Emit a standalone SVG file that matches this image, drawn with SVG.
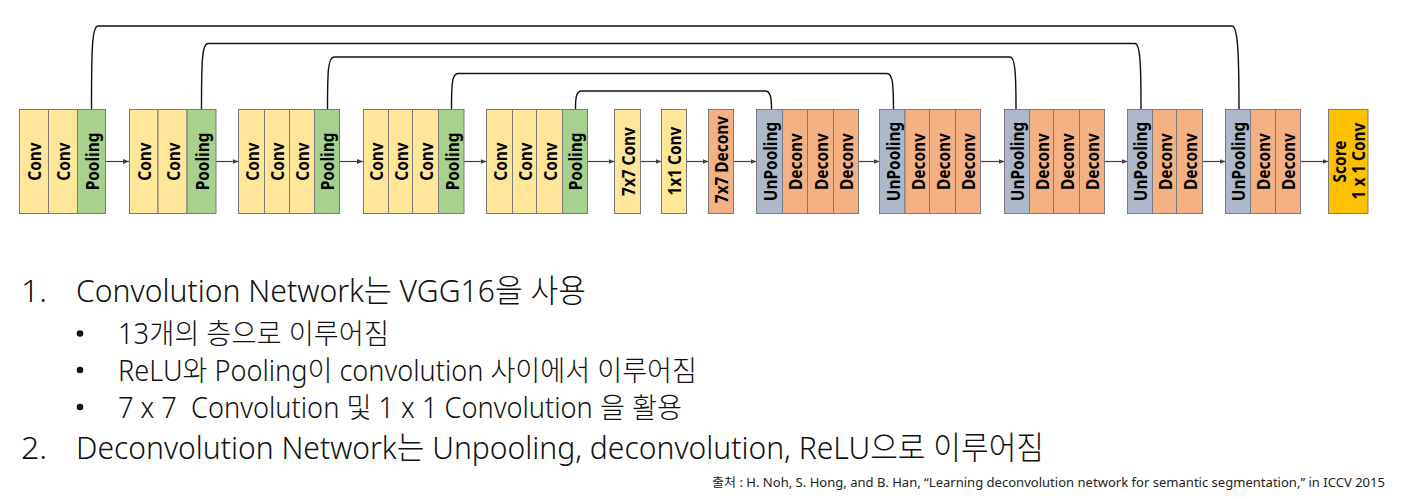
<svg xmlns="http://www.w3.org/2000/svg" width="1404" height="499" viewBox="0 0 1404 499">
<style>
.c{stroke:#7a7a7a;stroke-width:1}
.y{fill:#FFE699}.g{fill:#A9D18E}.o{fill:#F4B183}.b{fill:#ADB9CA}.s{fill:#FFC000}
.l{font-family:"Noto Sans","Liberation Sans",sans-serif;font-weight:700;font-size:17.5px;fill:#000;text-anchor:middle}
.ar{stroke:#404040;stroke-width:1.2;fill:none}
.sk{stroke:#111;stroke-width:1.4;fill:none}
.t{font-family:"Noto Sans","Noto Sans CJK KR",sans-serif;font-weight:300;fill:#111}
.big{font-size:32px}.mid{font-size:28.5px}
.cit{font-family:"Noto Sans","Noto Sans CJK KR",sans-serif;font-size:12.5px;fill:#222}
</style>
<defs>
<marker id="ah" markerUnits="userSpaceOnUse" markerWidth="6" markerHeight="6" refX="6" refY="3" orient="auto"><path d="M0,0.5 L6,3 L0,5.5 z" fill="#404040"/></marker>
</defs>
<g id="connectors">
<path class="sk" d="M91.5,109 C91.5,50 92,26 98,26 L1232,26 C1237.5,26 1239,50 1239,109"/>
<path class="sk" d="M201.5,109 C201.5,62 202,43.5 208,43.5 L1135,43.5 C1140,43.5 1141,62 1141,109"/>
<path class="sk" d="M327.5,109 C327.5,72 328,57 334,57 L1010,57 C1015,57 1016,72 1016,109"/>
<path class="sk" d="M451.5,109 C451.5,84 452,73.5 458,73.5 L887,73.5 C892.5,73.5 893.5,84 893.5,109"/>
<path class="sk" d="M575.5,109 C575.5,98 576,91 582,91 L765,91 C770.5,91 771.5,98 771.5,109"/>
<line class="ar" x1="106" y1="161.5" x2="129" y2="161.5" marker-end="url(#ah)"/>
<line class="ar" x1="216" y1="161.5" x2="238.5" y2="161.5" marker-end="url(#ah)"/>
<line class="ar" x1="339.5" y1="161.5" x2="363" y2="161.5" marker-end="url(#ah)"/>
<line class="ar" x1="464" y1="161.5" x2="486.5" y2="161.5" marker-end="url(#ah)"/>
<line class="ar" x1="587.5" y1="161.5" x2="614.5" y2="161.5" marker-end="url(#ah)"/>
<line class="ar" x1="640.5" y1="161.5" x2="661.5" y2="161.5" marker-end="url(#ah)"/>
<line class="ar" x1="686.5" y1="161.5" x2="708.5" y2="161.5" marker-end="url(#ah)"/>
<line class="ar" x1="733.5" y1="161.5" x2="756.5" y2="161.5" marker-end="url(#ah)"/>
<line class="ar" x1="858.5" y1="161.5" x2="879.5" y2="161.5" marker-end="url(#ah)"/>
<line class="ar" x1="980.5" y1="161.5" x2="1004.5" y2="161.5" marker-end="url(#ah)"/>
<line class="ar" x1="1104.5" y1="161.5" x2="1127.5" y2="161.5" marker-end="url(#ah)"/>
<line class="ar" x1="1202.5" y1="161.5" x2="1225.5" y2="161.5" marker-end="url(#ah)"/>
<line class="ar" x1="1300.5" y1="161.5" x2="1328.5" y2="161.5" marker-end="url(#ah)"/>
</g>
<g id="enc1">
<rect class="c y" x="19.5" y="109.5" width="29" height="104"/>
<rect class="c y" x="48.5" y="109.5" width="29" height="104"/>
<rect class="c g" x="77.5" y="109.5" width="28" height="104"/>
<text class="l" transform="translate(34,161.5) rotate(-90) scale(0.88,1)" y="7.4">Conv</text>
<text class="l" transform="translate(63,161.5) rotate(-90) scale(0.88,1)" y="7.4">Conv</text>
<text class="l" transform="translate(91.5,161.5) rotate(-90) scale(0.88,1)" y="7.4">Pooling</text>
</g>
<g id="enc2">
<rect class="c y" x="129.5" y="109.5" width="28.5" height="104"/>
<rect class="c y" x="158" y="109.5" width="29" height="104"/>
<rect class="c g" x="187" y="109.5" width="29" height="104"/>
<text class="l" transform="translate(143.7,161.5) rotate(-90) scale(0.88,1)" y="7.4">Conv</text>
<text class="l" transform="translate(172.5,161.5) rotate(-90) scale(0.88,1)" y="7.4">Conv</text>
<text class="l" transform="translate(201.5,161.5) rotate(-90) scale(0.88,1)" y="7.4">Pooling</text>
</g>
<g id="enc3">
<rect class="c y" x="238.5" y="109.5" width="26" height="104"/>
<rect class="c y" x="264.5" y="109.5" width="25" height="104"/>
<rect class="c y" x="289.5" y="109.5" width="25" height="104"/>
<rect class="c g" x="314.5" y="109.5" width="25" height="104"/>
<text class="l" transform="translate(251.5,161.5) rotate(-90) scale(0.88,1)" y="7.4">Conv</text>
<text class="l" transform="translate(277,161.5) rotate(-90) scale(0.88,1)" y="7.4">Conv</text>
<text class="l" transform="translate(302,161.5) rotate(-90) scale(0.88,1)" y="7.4">Conv</text>
<text class="l" transform="translate(327,161.5) rotate(-90) scale(0.88,1)" y="7.4">Pooling</text>
</g>
<g id="enc4">
<rect class="c y" x="363.5" y="109.5" width="25" height="104"/>
<rect class="c y" x="388.5" y="109.5" width="24" height="104"/>
<rect class="c y" x="412.5" y="109.5" width="26" height="104"/>
<rect class="c g" x="438.5" y="109.5" width="25.5" height="104"/>
<text class="l" transform="translate(376,161.5) rotate(-90) scale(0.88,1)" y="7.4">Conv</text>
<text class="l" transform="translate(400.5,161.5) rotate(-90) scale(0.88,1)" y="7.4">Conv</text>
<text class="l" transform="translate(425.5,161.5) rotate(-90) scale(0.88,1)" y="7.4">Conv</text>
<text class="l" transform="translate(451.3,161.5) rotate(-90) scale(0.88,1)" y="7.4">Pooling</text>
</g>
<g id="enc5">
<rect class="c y" x="486.5" y="109.5" width="26" height="104"/>
<rect class="c y" x="512.5" y="109.5" width="24" height="104"/>
<rect class="c y" x="536.5" y="109.5" width="26" height="104"/>
<rect class="c g" x="562.5" y="109.5" width="25" height="104"/>
<text class="l" transform="translate(499.5,161.5) rotate(-90) scale(0.88,1)" y="7.4">Conv</text>
<text class="l" transform="translate(524.5,161.5) rotate(-90) scale(0.88,1)" y="7.4">Conv</text>
<text class="l" transform="translate(549.5,161.5) rotate(-90) scale(0.88,1)" y="7.4">Conv</text>
<text class="l" transform="translate(575,161.5) rotate(-90) scale(0.88,1)" y="7.4">Pooling</text>
</g>
<g id="conv7">
<rect class="c y" x="614.5" y="109.5" width="26" height="104"/>
<text class="l" transform="translate(627.5,161.5) rotate(-90) scale(0.88,1)" y="7.4">7x7 Conv</text>
</g>
<g id="conv1">
<rect class="c y" x="661.5" y="109.5" width="25" height="104"/>
<text class="l" transform="translate(674,161) rotate(-90) scale(0.88,1)" y="7.4">1x1 Conv</text>
</g>
<g id="deconv7">
<rect class="c o" x="708.5" y="109.5" width="25" height="104"/>
<text class="l" transform="translate(721,159.5) rotate(-90) scale(0.88,1)" y="7.4">7x7 Deconv</text>
</g>
<g id="dec1">
<rect class="c b" x="756.5" y="109.5" width="26" height="104"/>
<rect class="c o" x="782.5" y="109.5" width="25" height="104"/>
<rect class="c o" x="807.5" y="109.5" width="26" height="104"/>
<rect class="c o" x="833.5" y="109.5" width="25" height="104"/>
<text class="l" transform="translate(769.5,161.5) rotate(-90) scale(0.88,1)" y="7.4">UnPooling</text>
<text class="l" transform="translate(795,161.5) rotate(-90) scale(0.88,1)" y="7.4">Deconv</text>
<text class="l" transform="translate(820.5,161.5) rotate(-90) scale(0.88,1)" y="7.4">Deconv</text>
<text class="l" transform="translate(846,161.5) rotate(-90) scale(0.88,1)" y="7.4">Deconv</text>
</g>
<g id="dec2">
<rect class="c b" x="879.5" y="109.5" width="25.5" height="104"/>
<rect class="c o" x="905" y="109.5" width="24.5" height="104"/>
<rect class="c o" x="929.5" y="109.5" width="26" height="104"/>
<rect class="c o" x="955.5" y="109.5" width="25" height="104"/>
<text class="l" transform="translate(892.2,161.5) rotate(-90) scale(0.88,1)" y="7.4">UnPooling</text>
<text class="l" transform="translate(917.2,161.5) rotate(-90) scale(0.88,1)" y="7.4">Deconv</text>
<text class="l" transform="translate(942.5,161.5) rotate(-90) scale(0.88,1)" y="7.4">Deconv</text>
<text class="l" transform="translate(968,161.5) rotate(-90) scale(0.88,1)" y="7.4">Deconv</text>
</g>
<g id="dec3">
<rect class="c b" x="1004.5" y="109.5" width="25" height="104"/>
<rect class="c o" x="1029.5" y="109.5" width="24" height="104"/>
<rect class="c o" x="1053.5" y="109.5" width="26" height="104"/>
<rect class="c o" x="1079.5" y="109.5" width="25" height="104"/>
<text class="l" transform="translate(1017,161.5) rotate(-90) scale(0.88,1)" y="7.4">UnPooling</text>
<text class="l" transform="translate(1041.5,161.5) rotate(-90) scale(0.88,1)" y="7.4">Deconv</text>
<text class="l" transform="translate(1066.5,161.5) rotate(-90) scale(0.88,1)" y="7.4">Deconv</text>
<text class="l" transform="translate(1092,161.5) rotate(-90) scale(0.88,1)" y="7.4">Deconv</text>
</g>
<g id="dec4">
<rect class="c b" x="1127.5" y="109.5" width="25" height="104"/>
<rect class="c o" x="1152.5" y="109.5" width="24" height="104"/>
<rect class="c o" x="1176.5" y="109.5" width="26" height="104"/>
<text class="l" transform="translate(1140,161.5) rotate(-90) scale(0.88,1)" y="7.4">UnPooling</text>
<text class="l" transform="translate(1164.5,161.5) rotate(-90) scale(0.88,1)" y="7.4">Deconv</text>
<text class="l" transform="translate(1189.5,161.5) rotate(-90) scale(0.88,1)" y="7.4">Deconv</text>
</g>
<g id="dec5">
<rect class="c b" x="1225.5" y="109.5" width="25" height="104"/>
<rect class="c o" x="1250.5" y="109.5" width="25" height="104"/>
<rect class="c o" x="1275.5" y="109.5" width="25" height="104"/>
<text class="l" transform="translate(1238,161.5) rotate(-90) scale(0.88,1)" y="7.4">UnPooling</text>
<text class="l" transform="translate(1263,161.5) rotate(-90) scale(0.88,1)" y="7.4">Deconv</text>
<text class="l" transform="translate(1288,161.5) rotate(-90) scale(0.88,1)" y="7.4">Deconv</text>
</g>
<g id="score">
<rect class="c s" x="1328.5" y="109.5" width="39.5" height="104"/>
<text class="l" transform="translate(1348,161.5) rotate(-90) scale(0.88,1)" y="-2.5">Score</text>
<text class="l" transform="translate(1348,161) rotate(-90) scale(0.88,1)" y="17">1 x 1 Conv</text>
</g>
<g id="notes">
<text class="t big" x="21" y="302">1.</text>
<text class="t big" x="76" y="302" textLength="510" lengthAdjust="spacingAndGlyphs">Convolution Network는 VGG16을 사용</text>
<circle cx="80" cy="333.5" r="3.3" fill="#111"/>
<circle cx="80" cy="370" r="3.3" fill="#111"/>
<circle cx="80" cy="407" r="3.3" fill="#111"/>
<text class="t mid" x="118" y="344" textLength="271" lengthAdjust="spacingAndGlyphs">13개의 층으로 이루어짐</text>
<text class="t mid" x="118" y="380.5" textLength="579" lengthAdjust="spacingAndGlyphs">ReLU와 Pooling이 convolution 사이에서 이루어짐</text>
<text class="t mid" x="118" y="418" xml:space="preserve" textLength="564" lengthAdjust="spacingAndGlyphs">7 x 7  Convolution 및 1 x 1 Convolution 을 활용</text>
<text class="t big" x="21" y="459">2.</text>
<text class="t big" x="76" y="459" textLength="968" lengthAdjust="spacingAndGlyphs">Deconvolution Network는 Unpooling, deconvolution, ReLU으로 이루어짐</text>
<text class="cit" x="712" y="487" textLength="673" lengthAdjust="spacingAndGlyphs">출처 : H. Noh, S. Hong, and B. Han, “Learning deconvolution network for semantic segmentation,” in ICCV 2015</text>
</g>
</svg>
